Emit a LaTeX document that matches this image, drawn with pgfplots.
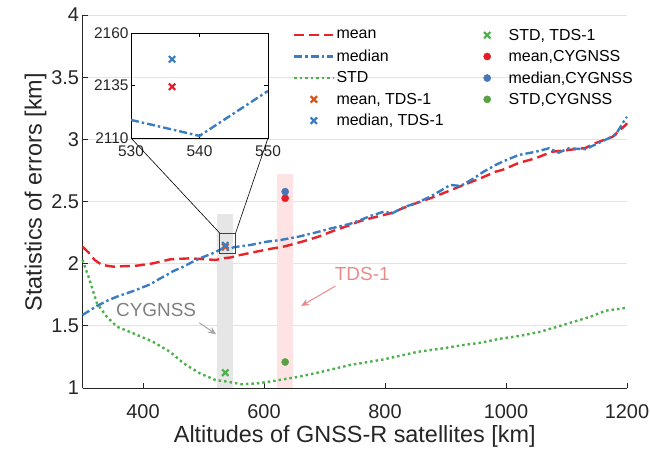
\documentclass[border=0pt]{standalone}
\usepackage{pgfplots}
\usepackage{pgfplotstable}
\pgfplotsset{compat=1.18}
\usepackage{fontspec}
\setmainfont{Liberation Sans}
\usetikzlibrary{arrows.meta}

\definecolor{meanred}{HTML}{E8232A}
\definecolor{medblue}{HTML}{3B7DC2}
\definecolor{stdgreen}{HTML}{4DB04A}
\definecolor{tdsorange}{HTML}{D95319}
\definecolor{cygred}{HTML}{E51E25}
\definecolor{cygblue}{HTML}{4676B5}
\definecolor{cyggreen}{HTML}{5BA144}
\definecolor{axisgray}{HTML}{262626}
\definecolor{gridgray}{HTML}{E3E3E3}
\definecolor{bandgray}{HTML}{E6E6E6}
\definecolor{bandpink}{HTML}{FDE3E3}
\definecolor{tdstext}{HTML}{E98B8B}
\definecolor{cygtext}{HTML}{7F7F7F}
\definecolor{cygarrow}{HTML}{A6A6A6}

% mean error vs. altitude [km]
\pgfplotstableread{
x y
300 2.137
310 2.09
320 2.03
332 1.99
351 1.976
370 1.98
390 1.984
417 2.003
445 2.035
478 2.043
505 2.035
520 2.03
533 2.043
545 2.05
561 2.07
588 2.097
616 2.124
635 2.14
663 2.177
690 2.217
718 2.27
742 2.31
756 2.338
776 2.365
809 2.405
842 2.47
875 2.526
903 2.58
930 2.633
958 2.687
983 2.74
994 2.754
1021 2.81
1049 2.848
1076 2.90
1104 2.915
1131 2.93
1148 2.97
1176 3.02
1198 3.116
1200 3.13
}\meantab

% median error vs. altitude [km]
\pgfplotstableread{
x y
300 1.587
324 1.66
340 1.70
357 1.735
384 1.78
412 1.834
428 1.88
439 1.909
450 1.94
467 1.976
480 2.01
494 2.043
516 2.085
530 2.1186
540 2.111
550 2.1324
577 2.15
605 2.177
627 2.19
657 2.217
685 2.25
712 2.285
742 2.32
759 2.35
776 2.384
798 2.418
812 2.405
831 2.454
853 2.49
875 2.54
892 2.587
908 2.633
925 2.625
947 2.687
963 2.74
983 2.794
994 2.82
1021 2.874
1049 2.90
1071 2.928
1087 2.893
1104 2.928
1131 2.92
1153 2.97
1181 3.035
1198 3.17
1200 3.18
}\mediantab

% standard deviation vs. altitude [km]
\pgfplotstableread{
x y
300 2.03
310 1.895
324 1.68
340 1.574
357 1.493
384 1.44
417 1.37
445 1.29
467 1.199
494 1.118
520 1.064
541 1.05
563 1.03
591 1.038
619 1.059
657 1.09
696 1.131
742 1.185
798 1.23
853 1.29
897 1.32
930 1.346
958 1.364
991 1.397
1024 1.42
1057 1.453
1085 1.493
1112 1.533
1140 1.574
1165 1.622
1198 1.644
1200 1.645
}\stdtab

\pgfplotsset{
  linelegend/.style={legend image code/.code={\draw[##1] (0bp,0bp) -- (39bp,0bp);}},
  marklegend/.style={legend image code/.code={%
      \path[draw=none, fill=none] (0bp,-1bp) rectangle (39bp,1bp);
      \path[##1, draw=none, fill=none] plot coordinates {(19.5bp,0bp)};}},
  meanstyle/.style={meanred, line width=2.4bp, dash pattern=on 10bp off 5bp, mark=none},
  medianstyle/.style={medblue, line width=2.4bp, dash pattern=on 8bp off 3bp on 2.5bp off 3bp, mark=none},
  stdstyle/.style={stdgreen, line width=2.4bp, dash pattern=on 2.5bp off 3bp, mark=none},
  xmk/.style={only marks, mark=x, mark size=4.5bp, line width=2.2bp, mark options={solid, draw=.}},
  dotmk/.style={only marks, mark=*, mark size=3.6bp, mark options={solid, draw=., fill=.}},
}

\begin{document}
\begin{tikzpicture}
\useasboundingbox (-82.5bp,-67bp) rectangle (567.5bp,388bp);
\begin{axis}[
  name=main, at={(0,0)}, anchor=south west,
  scale only axis, width=544.5bp, height=373bp,
  xmin=300, xmax=1200, ymin=1, ymax=4,
  xtick={400,600,...,1200}, ytick={1,1.5,...,4},
  axis x line*=bottom, axis y line*=left,
  axis line style={-, axisgray, line width=0.8bp},
  tick align=inside, major tick length=5bp,
  tick style={axisgray, line width=0.8bp},
  ymajorgrids, grid style={gridgray, line width=0.9bp},
  tick label style={font=\fontsize{20}{24}\selectfont, text=axisgray},
  xticklabel style={yshift=-13bp},
  /pgf/number format/assume math mode=true,
  /pgf/number format/1000 sep={},
  xlabel={Altitudes of GNSS-R satellites [km]},
  ylabel={Statistics of errors [km]},
  label style={font=\fontsize{23.5}{27}\selectfont, text=axisgray},
  ylabel style={at={(ticklabel cs:0.525)}, yshift=-2bp},
  legend style={at={(rel axis cs:0.381,0.974)}, anchor=north west,
    draw=none, fill=none, font=\fontsize{16}{19}\selectfont,
    legend columns=2, legend cell align=left,
    /tikz/every even column/.append style={column sep=22bp},
    row sep=4.5bp},
  clip=false,
]
% satellite altitude bands
\addplot[draw=none, fill=bandgray, forget plot] coordinates {(522.5,1) (548.5,1) (548.5,2.40) (522.5,2.40)} -- cycle;
\addplot[draw=none, fill=bandpink, forget plot] coordinates {(621.8,1) (647.2,1) (647.2,2.72) (621.8,2.72)} -- cycle;

% error statistics vs altitude
\addplot[meanstyle, forget plot] table {\meantab};
\addplot[medianstyle, forget plot] table {\mediantab};
\addplot[stdstyle, forget plot] table {\stdtab};

% TDS-1 and CYGNSS values
\addplot[xmk, stdgreen, forget plot] coordinates {(536,1.123)};
\addplot[xmk, tdsorange, forget plot] coordinates {(536,2.1344)};
\addplot[xmk, medblue, forget plot] coordinates {(536,2.1475)};
\addplot[dotmk, cygred, forget plot] coordinates {(635,2.526)};
\addplot[dotmk, cygblue, forget plot] coordinates {(635,2.579)};
\addplot[dotmk, cyggreen, forget plot] coordinates {(635,1.209)};

% legend, filled row by row
\addlegendimage{meanstyle, linelegend}\addlegendentry{mean}
\addlegendimage{xmk, stdgreen, marklegend}\addlegendentry{STD, TDS-1}
\addlegendimage{medianstyle, linelegend}\addlegendentry{median}
\addlegendimage{dotmk, cygred, marklegend}\addlegendentry{mean,CYGNSS}
\addlegendimage{stdstyle, linelegend}\addlegendentry{STD}
\addlegendimage{dotmk, cygblue, marklegend}\addlegendentry{median,CYGNSS}
\addlegendimage{xmk, tdsorange, marklegend}\addlegendentry{mean, TDS-1}
\addlegendimage{dotmk, cyggreen, marklegend}\addlegendentry{STD,CYGNSS}
\addlegendimage{xmk, medblue, marklegend}\addlegendentry{median, TDS-1}

% zoom window
\draw[black!75, line width=1.2bp] (axis cs:527,2.08) rectangle (axis cs:553,2.245);
\coordinate (boxTL) at (axis cs:527,2.245);
\coordinate (boxTR) at (axis cs:553,2.245);

% annotations
\node[text=cygtext, font=\fontsize{19}{22}\selectfont] at (axis cs:421.6,1.628) {CYGNSS};
\draw[cygarrow, line width=1bp, -{Stealth[length=8bp, width=7bp]}] (axis cs:493,1.525) -- (axis cs:521,1.432);
\node[text=tdstext, font=\fontsize{19}{22}\selectfont] at (axis cs:762.4,1.917) {TDS-1};
\draw[tdstext, line width=1bp, -{Stealth[length=8bp, width=7bp]}] (axis cs:718,1.82) -- (axis cs:661.5,1.66);
\end{axis}

% inset: detail around 540 km (values in m)
\begin{axis}[
  name=ins, at={(48.5bp,250bp)}, anchor=south west,
  scale only axis, width=137bp, height=105bp,
  xmin=530, xmax=550, ymin=2110, ymax=2160,
  xtick={530,540,550}, ytick={2110,2135,2160},
  tick align=inside, major tick length=4bp,
  axis line style={black, line width=0.6bp},
  tick style={black, line width=0.6bp},
  tick label style={font=\fontsize{15.5}{18}\selectfont, text=axisgray},
  xticklabel style={yshift=-4bp},
  yticklabel style={xshift=1bp},
  /pgf/number format/assume math mode=true,
  /pgf/number format/1000 sep={},
]
\addplot[medianstyle] coordinates {(530,2118.6) (540,2111) (550,2132.4)};
\addplot[xmk, cygred] coordinates {(536,2134.4)};
\addplot[xmk, medblue] coordinates {(536,2147.5)};
\end{axis}

\draw[black, line width=0.6bp] (ins.south west) -- (boxTL);
\draw[black, line width=0.6bp] (ins.south east) -- (boxTR);
\end{tikzpicture}
\end{document}
